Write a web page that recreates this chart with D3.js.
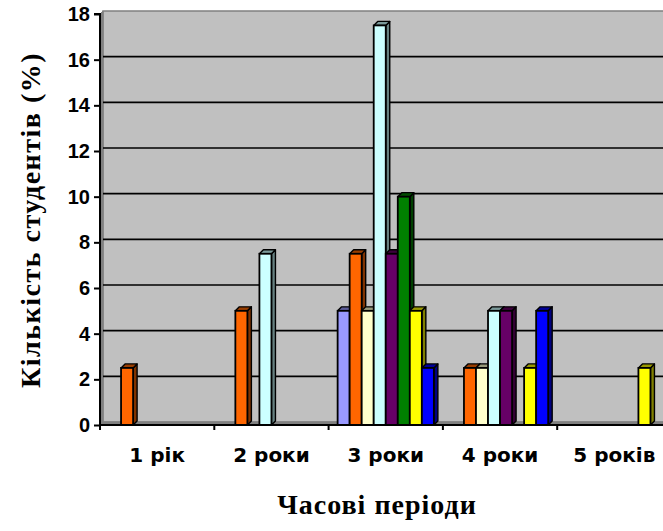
<!DOCTYPE html>
<html>
<head>
<meta charset="utf-8">
<script src="https://cdn.jsdelivr.net/npm/d3@7"></script>
<style>
  html, body { margin: 0; padding: 0; background: #fff; }
  svg { display: block; }
</style>
</head>
<body>
<svg id="chart" width="663" height="531"></svg>
<script>
// Time periods along the category axis
const categories = ["1 рік", "2 роки", "3 роки", "4 роки", "5 років"];

// One array per series, one value per period (null = no bar)
const seriesA = [null, null, 5, null, null];
const seriesB = [2.5, 5, 7.5, 2.5, null];
const seriesC = [null, null, 5, 2.5, null];
const seriesD = [null, 7.5, 17.5, 5, null];
const seriesE = [null, null, 7.5, 5, null];
const seriesF = [null, null, 10, null, null];
const seriesG = [null, null, 5, 2.5, 2.5];
const seriesH = [null, null, 2.5, 5, null];

const seriesList = [seriesA, seriesB, seriesC, seriesD, seriesE, seriesF, seriesG, seriesH];
const seriesKeys = ["A", "B", "C", "D", "E", "F", "G", "H"];
const palette = ["#9999FF", "#FF6600", "#FFFFCC", "#CCFFFF", "#660066", "#008000", "#FFFF00", "#0000FF"];

const yTicks = [0, 2, 4, 6, 8, 10, 12, 14, 16, 18];

const yTitle = "Кількість студентів (%)";
const xTitle = "Часові періоди";

// ---- layout ----
const svg = d3.select("#chart");
const plotLeft = 100, plotBottom = 425, plotTop = 14;
const catStep = 114.3;
const depth = 3;     // wall depth offset
const barDepth = 4;  // bar depth offset

const y = d3.scaleLinear().domain([0, 18]).range([plotBottom, plotTop]);
const x = d3.scaleBand().domain(categories)
  .range([plotLeft, plotLeft + catStep * categories.length])
  .paddingInner(0).paddingOuter(0);
const xs = d3.scaleBand().domain(seriesKeys)
  .range([0, x.bandwidth()])
  .paddingInner(0).paddingOuter(0.75);

const plotRight = plotLeft + catStep * categories.length;

// back wall
svg.append("rect")
  .attr("x", plotLeft + depth).attr("y", plotTop - depth)
  .attr("width", plotRight - plotLeft).attr("height", plotBottom - plotTop)
  .attr("fill", "#C0C0C0").attr("stroke", "#808080").attr("stroke-width", 1.5);

// side wall
svg.append("path")
  .attr("d", `M${plotLeft},${plotTop}L${plotLeft + depth},${plotTop - depth}L${plotLeft + depth},${plotBottom - depth}L${plotLeft},${plotBottom}Z`)
  .attr("fill", "#808080").attr("stroke", "#808080").attr("stroke-width", 1);

// floor
svg.append("path")
  .attr("d", `M${plotLeft},${plotBottom}L${plotLeft + depth},${plotBottom - depth}L${plotRight + depth},${plotBottom - depth}L${plotRight},${plotBottom}Z`)
  .attr("fill", "#808080").attr("stroke", "#808080").attr("stroke-width", 1);

// gridlines on the back wall
svg.append("g").selectAll("line")
  .data(yTicks.filter(v => v > 0 && v < 18))
  .join("line")
  .attr("x1", plotLeft + depth).attr("x2", plotRight + depth)
  .attr("y1", d => y(d) - depth).attr("y2", d => y(d) - depth)
  .attr("stroke", "#000").attr("stroke-width", 1.6);

// bars
const shade = (c, k) => {
  const col = d3.rgb(c);
  return d3.rgb(col.r * k, col.g * k, col.b * k).formatHex();
};

const barsG = svg.append("g");
categories.forEach((cat, ci) => {
  seriesList.forEach((vals, si) => {
    const v = vals[ci];
    if (v == null) return;
    const x0 = x(cat) + xs(seriesKeys[si]);
    const w = xs.bandwidth();
    const y0 = y(v), yb = y(0);
    const col = palette[si];
    const g = barsG.append("g");
    // side face
    g.append("path")
      .attr("d", `M${x0 + w},${y0}L${x0 + w + barDepth},${y0 - barDepth}L${x0 + w + barDepth},${yb - barDepth}L${x0 + w},${yb}Z`)
      .attr("fill", shade(col, 0.5)).attr("stroke", "#000").attr("stroke-width", 1.4).attr("stroke-linejoin", "round");
    // top face
    g.append("path")
      .attr("d", `M${x0},${y0}L${x0 + barDepth},${y0 - barDepth}L${x0 + w + barDepth},${y0 - barDepth}L${x0 + w},${y0}Z`)
      .attr("fill", shade(col, 0.6)).attr("stroke", "#000").attr("stroke-width", 1.4).attr("stroke-linejoin", "round");
    // front face
    g.append("rect")
      .attr("x", x0).attr("y", y0).attr("width", w).attr("height", yb - y0)
      .attr("fill", col).attr("stroke", "#000").attr("stroke-width", 1.8);
  });
});

// value axis
const yAxis = d3.axisLeft(y).tickValues(yTicks).tickSize(6).tickPadding(4).tickFormat(d3.format("d"));
const yg = svg.append("g").attr("transform", `translate(${plotLeft},0)`).call(yAxis);
yg.select(".domain").attr("stroke", "#000").attr("stroke-width", 2).attr("d", `M-6,${plotTop}H0V${plotBottom}`);
yg.selectAll(".tick line").attr("stroke", "#000").attr("stroke-width", 2);
yg.selectAll(".tick text")
  .attr("font-family", "'Liberation Sans', Arial, sans-serif")
  .attr("font-weight", "bold").attr("font-size", 20).attr("fill", "#000");

// category axis
const xAxis = d3.axisBottom(x).tickSize(0).tickPadding(23);
const xg = svg.append("g").attr("transform", `translate(0,${plotBottom})`).call(xAxis);
xg.select(".domain").attr("stroke", "#000").attr("stroke-width", 2).attr("d", `M${plotLeft},0H${plotRight}`);
xg.selectAll(".tick text")
  .attr("font-family", "'DejaVu Sans', sans-serif")
  .attr("font-weight", "bold").attr("font-size", 20)
  .attr("fill", "#000");
// category boundary ticks
xg.append("g").selectAll("line")
  .data(d3.range(categories.length + 1))
  .join("line")
  .attr("x1", i => plotLeft + i * x.step()).attr("x2", i => plotLeft + i * x.step())
  .attr("y1", 0).attr("y2", 5)
  .attr("stroke", "#000").attr("stroke-width", 2);

// axis titles
svg.append("text")
  .attr("transform", "translate(40,220) rotate(-90)")
  .attr("text-anchor", "middle")
  .attr("font-family", "'Liberation Serif', 'Times New Roman', serif")
  .attr("font-weight", "bold").attr("font-size", 28).attr("letter-spacing", "1.5px")
  .text(yTitle);

svg.append("text")
  .attr("x", 377).attr("y", 514)
  .attr("text-anchor", "middle")
  .attr("font-family", "'Liberation Serif', 'Times New Roman', serif")
  .attr("font-weight", "bold").attr("font-size", 28).attr("letter-spacing", "1px")
  .text(xTitle);
</script>
</body>
</html>
